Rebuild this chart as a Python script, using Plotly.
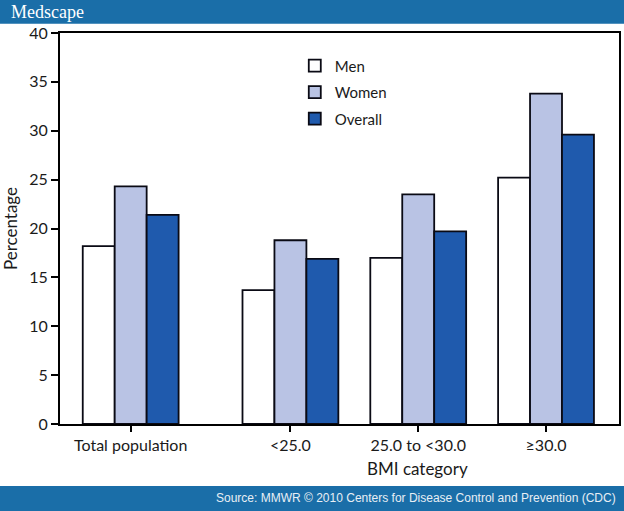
import plotly.graph_objects as go

categories = ["Total population", "<25.0", "25.0 to <30.0", "≥30.0"]
group_pos = [0, 1.25, 2.25, 3.25]
men = [18.2, 13.7, 17.0, 25.2]
women = [24.3, 18.8, 23.5, 33.8]
overall = [21.4, 16.9, 19.7, 29.6]
y_ticks = [0, 5, 10, 15, 20, 25, 30, 35, 40]

FONT = "Lato"
fig = go.Figure()
series = [("Men", men, "#ffffff", -0.375),
          ("Women", women, "#b9c3e4", -0.125),
          ("Overall", overall, "#1f5aad", 0.125)]
for name, vals, color, off in series:
    fig.add_trace(go.Bar(
        x=group_pos, y=vals, name=name, width=0.25, offset=off, legendgroup=name,
        marker=dict(color=color, line=dict(color="#0a0a14", width=1.8)),
    ))

fig.update_layout(
    width=624, height=511,
    margin=dict(l=59, r=3, t=33, b=87),
    barmode="overlay",
    paper_bgcolor="white", plot_bgcolor="white",
    font=dict(family=FONT, size=16, color="#1a1a1a"),
    showlegend=True,
    legend=dict(x=0.42, y=0.958, xanchor="left", yanchor="top",
                font=dict(family=FONT, size=15, color="#1a1a1a"),
                bgcolor="rgba(0,0,0,0)", tracegroupgap=4),
    xaxis=dict(range=[-0.553, 3.821], tickmode="array", tickvals=group_pos,
               ticktext=categories, ticks="outside", ticklen=6, tickwidth=1.5,
               tickcolor="black", showline=True, linecolor="black", linewidth=2,
               mirror=True, showgrid=False, zeroline=False,
               tickfont=dict(family=FONT, size=16)),
    yaxis=dict(range=[0, 40], tickmode="array", tickvals=y_ticks,
               ticks="outside", ticklen=7, tickwidth=1.5, tickcolor="black",
               showline=True, linecolor="black", linewidth=2, mirror=True,
               showgrid=False, zeroline=False,
               tickfont=dict(family=FONT, size=16),
               title=dict(text="Percentage", standoff=14,
                          font=dict(family=FONT, size=17))),
)

fig.add_annotation(text="BMI category", xref="paper", yref="paper",
                   x=0.639, y=-0.115, xanchor="center", yanchor="middle",
                   showarrow=False, font=dict(family=FONT, size=17, color="#1a1a1a"))

# header and footer bands
fig.add_shape(type="rect", xref="paper", yref="paper", x0=-0.2, x1=1.1,
              y0=1.0235, y1=1.1, fillcolor="#1a6ea8", line=dict(width=0), layer="above")
fig.add_shape(type="rect", xref="paper", yref="paper", x0=-0.2, x1=1.1,
              y0=-0.25, y1=-0.1586, fillcolor="#1a6ea8", line=dict(width=0), layer="above")
fig.add_annotation(text="Medscape", xref="paper", yref="paper",
                   x=-0.092, y=1.053, xanchor="left", yanchor="middle", showarrow=False,
                   font=dict(family="Liberation Serif", size=18, color="white"))
fig.add_annotation(text="Source: MMWR © 2010 Centers for Disease Control and Prevention (CDC)",
                   xref="paper", yref="paper", x=0.998, y=-0.19, xanchor="right",
                   yanchor="middle", showarrow=False,
                   font=dict(family="Liberation Sans", size=12, color="#e8eef5"))

fig.write_html("out.html", config={"displayModeBar": False},
               post_script="document.body.style.margin='0';document.body.style.padding='0';")
